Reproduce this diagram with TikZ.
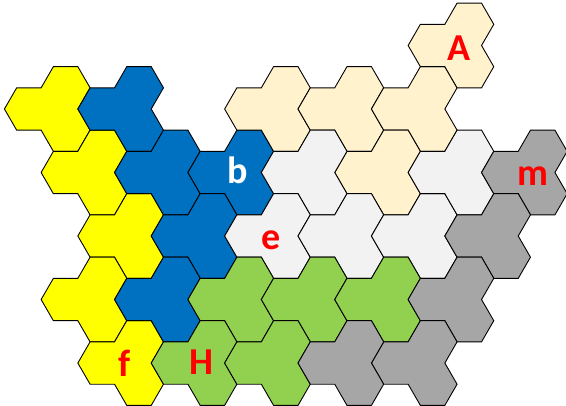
\documentclass[tikz,border=0pt]{standalone}
\usepackage{fontspec}
\setmainfont{Carlito}
\definecolor{cyel}{HTML}{FFFF00}
\definecolor{cblue}{HTML}{0070C0}
\definecolor{cbeige}{HTML}{FFF2CC}
\definecolor{clgray}{HTML}{F2F2F2}
\definecolor{cgray}{HTML}{A6A6A6}
\definecolor{cgreen}{HTML}{92D050}
\definecolor{cred}{HTML}{FF0000}
\tikzset{
  pics/trihex/.style={code={
    \filldraw[line width=0.9pt, draw=black, fill=#1, line join=miter]
      (-24.47,0) -- (-12.235,-21.17) -- (12.235,-21.17) -- (24.47,-42.34)
      -- (48.94,-42.34) -- (61.175,-21.17) -- (48.94,0) -- (61.175,21.17)
      -- (48.94,42.34) -- (24.47,42.34) -- (12.235,21.17) -- (-12.235,21.17)
      -- cycle;
  }},
  lbl/.style={inner sep=0pt, anchor=center, font=\fontsize{38}{40}\selectfont\bfseries, text=cred},
}
\newcommand\piece[3]{\pic at ({28.9+36.7*(#1)},{109+21.17*(#2)}) {trihex=#3};}
\begin{document}
\begin{tikzpicture}[x=1pt,y=-1pt]
\useasboundingbox (0,0) rectangle (566,406);
\clip (0,0) rectangle (566,406);
% yellow
\piece{0}{0}{cyel}
\piece{1}{3}{cyel}
\piece{2}{6}{cyel}
\piece{1}{9}{cyel}
\piece{2}{12}{cyel}
% blue
\piece{2}{0}{cblue}
\piece{3}{3}{cblue}
\piece{5}{3}{cblue}
\piece{4}{6}{cblue}
\piece{3}{9}{cblue}
% beige
\piece{6}{0}{cbeige}
\piece{8}{0}{cbeige}
\piece{10}{0}{cbeige}
\piece{11}{-3}{cbeige}
\piece{9}{3}{cbeige}
% light gray
\piece{7}{3}{clgray}
\piece{6}{6}{clgray}
\piece{8}{6}{clgray}
\piece{10}{6}{clgray}
\piece{11}{3}{clgray}
% green
\piece{5}{9}{cgreen}
\piece{7}{9}{cgreen}
\piece{9}{9}{cgreen}
\piece{4}{12}{cgreen}
\piece{6}{12}{cgreen}
% gray
\piece{13}{3}{cgray}
\piece{12}{6}{cgray}
\piece{11}{9}{cgray}
\piece{10}{12}{cgray}
\piece{8}{12}{cgray}
% labels
\node[lbl] (lA) at (459,48) {A};
\node[lbl, text=white] (lb) at (238,170.5) {b};
\node[lbl] (le) at (271,240.5) {e};
\node[lbl] (lm) at (532.5,176.5) {m};
\node[lbl] (lf) at (125,363.5) {f};
\node[lbl] (lH) at (201.5,362.5) {H};
\end{tikzpicture}
\end{document}
